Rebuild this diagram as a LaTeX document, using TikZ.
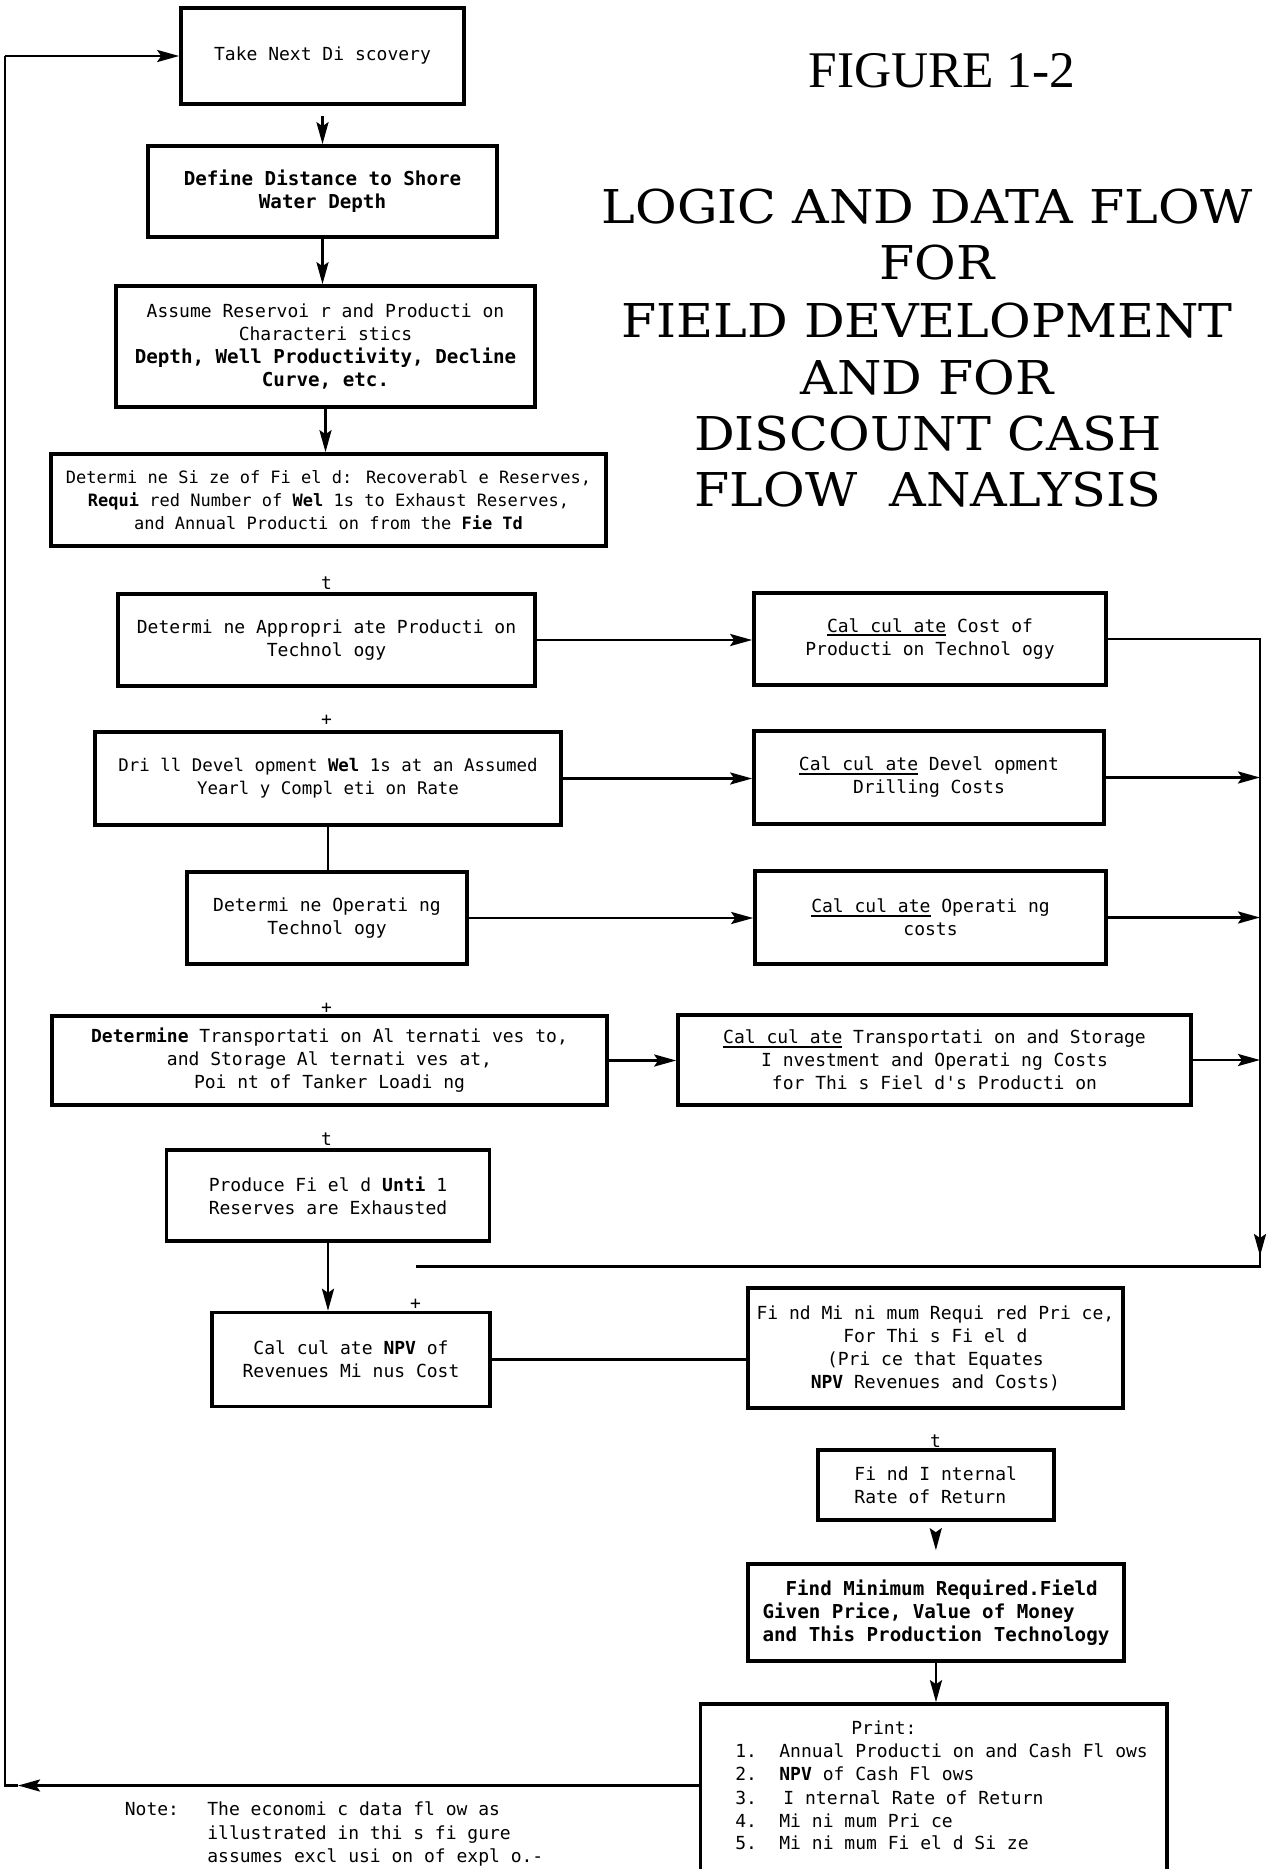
\documentclass[tikz,border=0pt]{standalone}
\usepackage{fontspec}
\usepackage{graphicx}
\usetikzlibrary{arrows.meta,calc}
\newfontfamily\boxfont{DejaVu Sans Mono}
\newfontfamily\ttlfont{DejaVu Serif}
\newfontfamily\figfont{Liberation Serif}
\newcommand\bxf{\boxfont\fontsize{9pt}{11.5pt}\selectfont}
\newcommand\bxs{\boxfont\fontsize{8.5pt}{11.5pt}\selectfont}
\newcommand\bxm{\boxfont\fontsize{8.7pt}{11.5pt}\selectfont}
\newcommand\bbf{\bfseries\fontsize{9.6pt}{11.5pt}\selectfont}
\newcommand\uln[1]{\leavevmode\setbox0=\hbox{#1}\rlap{\rule[-2pt]{\wd0}{1.1pt}}\box0\relax}
\tikzset{
  box/.style={draw, line width=1.8pt, inner sep=0pt, align=center, font=\bxf},
  conn/.style={line width=1.4pt},
  arr/.style={conn, -{Stealth[length=11pt,width=6pt,inset=2pt]}},
  tk/.style={font=\bxf, inner sep=0pt},
  ttl/.style={font=\ttlfont\fontsize{23.3pt}{28pt}\selectfont, anchor=base, inner sep=0pt},
  figt/.style={font=\figfont\fontsize{25.7pt}{30pt}\selectfont, anchor=base, inner sep=0pt},
  lbl/.style={font=\bxf, anchor=base west, inner sep=0pt},
}
\begin{document}
\begin{tikzpicture}[x=0.5pt,y=-0.5pt]
\fill[white] (0,0) rectangle (1273,1869);
\useasboundingbox (0,0) rectangle (1273,1869);

% title
\node[figt] (fig) at (942,87.5) {FIGURE 1-2};
\node[ttl] (t1) at (927,223) {\scalebox{1.09}[1]{LOGIC AND DATA FLOW}};
\node[ttl] (t2) at (937,279) {\scalebox{1.09}[1]{FOR}};
\node[ttl] (t3) at (927,337.5) {\scalebox{1.09}[1]{FIELD DEVELOPMENT}};
\node[ttl] (t4) at (927,394.5) {\scalebox{1.09}[1]{AND FOR}};
\node[ttl] (t5) at (928,450) {\scalebox{1.09}[1]{DISCOUNT CASH}};
\node[ttl] (t6) at (928,506) {\scalebox{1.09}[1]{FLOW\ \ ANALYSIS}};

% left column
\node[box, minimum width=141.5pt, minimum height=48pt] (B1) at (322.5,56) {Take Next Di scovery};
\node[box, minimum width=174.5pt, minimum height=45.5pt, font=\bxf\bbf] (B2) at (322.5,191.5) {Define Distance to Shore\\Water Depth};
\node[box, minimum width=209.5pt, minimum height=60.5pt] (B3) at (325.5,346.5) {Assume Reservoi r and Producti on\\Characteri stics\\{\bbf Depth, Well Productivity, Decline}\\{\bbf Curve, etc.}};
\node[box, minimum width=277.5pt, minimum height=46pt, font=\bxs] (B4) at (328.5,500) {Determi ne Si ze of Fi el d: Recoverabl e Reserves,\\{\bfseries Requi} red Number of {\bfseries Wel} 1s to Exhaust Reserves,\\and Annual Producti on from the {\bfseries Fie Td}};
\node[box, minimum width=208.5pt, minimum height=46pt] (B5) at (326.5,640) {Determi ne Appropri ate Producti on\\Technol ogy};
\node[box, minimum width=233pt, minimum height=46.5pt, font=\bxm] (B6) at (328,778.5) {Dri ll Devel opment {\bfseries Wel} 1s at an Assumed\\Yearl y Compl eti on Rate};
\node[box, minimum width=140pt, minimum height=46pt] (B7) at (327,918) {Determi ne Operati ng\\Technol ogy};
\node[box, minimum width=277.5pt, minimum height=44.5pt] (B8) at (329.5,1060.5) {{\bfseries Determine} Transportati on Al ternati ves to,\\and Storage Al ternati ves at,\\Poi nt of Tanker Loadi ng};
\node[box, minimum width=161.5pt, minimum height=45.5pt] (B9) at (328,1195.5) {Produce Fi el d {\bfseries Unti} 1\\Reserves are Exhausted};
\node[box, minimum width=139pt, minimum height=47pt] (B10) at (351,1359.6) {Cal cul ate {\bfseries NPV} of\\Revenues Mi nus Cost};

% right column
\node[box, minimum width=176pt, minimum height=46pt] (B11) at (930,639) {\uln{Cal cul ate} Cost of\\Producti on Technol ogy};
\node[box, minimum width=175pt, minimum height=46.5pt] (B12) at (929,777.5) {\uln{Cal cul ate} Devel opment\\Drilling Costs};
\node[box, minimum width=175.5pt, minimum height=46.5pt] (B13) at (930.5,917.5) {\uln{Cal cul ate} Operati ng\\costs};
\node[box, minimum width=256.5pt, minimum height=45pt] (B14) at (934.5,1060) {\uln{Cal cul ate} Transportati on and Storage\\I nvestment and Operati ng Costs\\for Thi s Fiel d's Producti on};
\node[box, minimum width=187.5pt, minimum height=60pt] (B15) at (935.4,1348) {Fi nd Mi ni mum Requi red Pri ce,\\For Thi s Fi el d\\(Pri ce that Equates\\{\bfseries NPV} Revenues and Costs)};
\node[box, minimum width=118pt, minimum height=35pt, align=left] (B16) at (935.7,1485) {Fi nd I nternal\\Rate of Return};
\node[box, minimum width=188pt, minimum height=48.5pt, align=left, font=\bxf\bbf] (B17) at (936,1612.5) {\hspace*{11.5pt}Find Minimum Required.Field\\Given Price, Value of Money\\and This Production Technology};
\node[box, minimum width=233.25pt, minimum height=100pt] (B18) at (933.75,1804) {};

% print list
\node[lbl] (p0) at (851,1734) {Print:};
\node[lbl] (n1) at (735,1757) {1.};
\node[lbl] (n2) at (735,1780) {2.};
\node[lbl] (n3) at (735,1804) {3.};
\node[lbl] (n4) at (735,1827) {4.};
\node[lbl] (n5) at (735,1849) {5.};
\node[lbl] (i1) at (779,1757) {Annual Producti on and Cash Fl ows};
\node[lbl] (i2) at (779,1780) {{\bfseries NPV} of Cash Fl ows};
\node[lbl] (i3) at (783,1804) {I nternal Rate of Return};
\node[lbl] (i4) at (779,1827) {Mi ni mum Pri ce};
\node[lbl] (i5) at (779,1849) {Mi ni mum Fi el d Si ze};

% note
\node[lbl] (no0) at (124.5,1815) {Note:};
\node[lbl] (no1) at (207,1815) {The economi c data fl ow as};
\node[lbl] (no2) at (207,1839) {illustrated in thi s fi gure};
\node[lbl] (no3) at (207,1862) {assumes excl usi on of expl o.-};

% tick marks printed between boxes
\node[tk] (k1) at (326.5,583) {t};
\node[tk] (k2) at (326.5,720) {+};
\node[tk] (k3) at (326.5,1008) {+};
\node[tk] (k4) at (326.5,1139) {t};
\node[tk] (k5) at (415.5,1304) {+};
\node[tk] (k6) at (935.5,1441) {t};

% vertical connectors
\draw[arr, shorten <=5pt] (B1.south) -- (B2.north);
\draw[arr] (B2.south) -- (B2.south |- B3.north);
\draw[arr] (B3.south) -- (B3.south |- B4.north);
\draw[conn] (B6.south) -- (B6.south |- B7.north);
\draw[arr] (B9.south) -- (B9.south |- B10.north);
\draw[arr, shorten <=6pt, shorten >=6pt] (B16.south) -- (B17.north);
\draw[arr] (B17.south) -- (B17.south |- B18.north);

% horizontal connectors
\draw[arr] (B5.east) -- (B5.east -| B11.west);
\draw[arr] (B6.east) -- (B6.east -| B12.west);
\draw[arr] (B7.east) -- (B7.east -| B13.west);
\draw[arr] (B8.east) -- (B8.east -| B14.west);
\draw[conn] (B10.east) -- (B10.east -| B15.west);

% bus on the right
\coordinate (busT) at (1260,639);
\coordinate (busB) at (1260,1266.7);
\coordinate (busL) at (415.5,1266.7);
\coordinate (busA) at (1260,1256);
\draw[conn] (B11.east) -- (busT) -- (busB) -- (busL);
\draw[arr] (busT) -- (busA);
\draw[arr] (B12.east) -- (B12.east -| busT);
\draw[arr] (B13.east) -- (B13.east -| busT);
\draw[arr] (B14.east) -- (B14.east -| busT);

% return loop
\coordinate (L) at (5,1785.5);
\coordinate (Lb) at (18,1785.5);
\coordinate (TL) at (5,56);
\draw[arr] (B18.west |- L) -- (Lb);
\draw[conn] (Lb) -- (L) -- (TL);
\draw[arr] (TL) -- (B1.west);
\end{tikzpicture}
\end{document}
